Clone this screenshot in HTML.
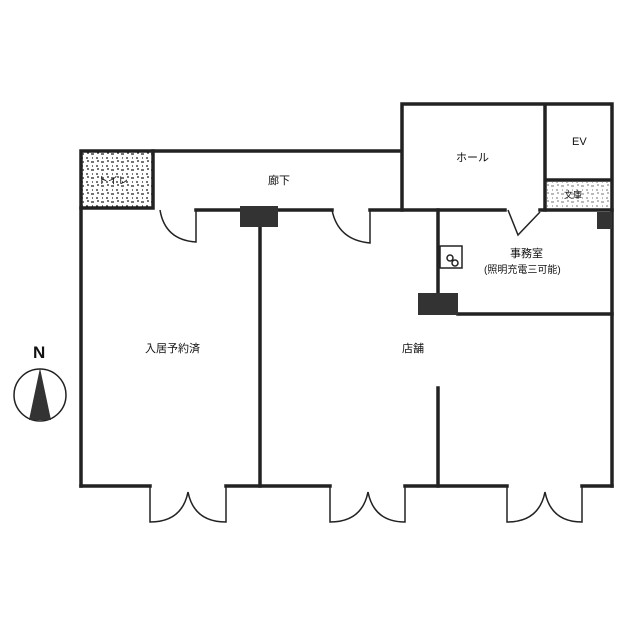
<!DOCTYPE html><html><head><meta charset="utf-8"><style>body{margin:0;background:#fff}svg{display:block}text{font-family:"Liberation Sans","Noto Sans CJK JP",sans-serif;font-size:11px;fill:#111}</style></head><body>
<svg width="640" height="640" viewBox="0 0 640 640">
<defs><pattern id="h" width="10" height="8" patternUnits="userSpaceOnUse"><path d="M1 2h3M6 6h2M7 1h2M2 6h1" stroke="#222" stroke-width="1.2"/></pattern></defs>
<rect x="81" y="151" width="72" height="56" fill="url(#h)"/>
<rect x="547" y="182" width="63" height="26" fill="url(#h)" opacity=".5"/>
<g stroke="#222" stroke-width="3.5" fill="none" stroke-linecap="square">
<path d="M81 151V486M81 151H402M402 104H612V486M402 104V210M545 104V210M545 180H612"/>
<path d="M81 486H150M226 486H330M405 486H507M582 486H612"/>
<path d="M81 208H153M153 151V208M196 210H332M370 210H505M540 210H612"/>
<path d="M260 210V486M438 210V300M458 314H612M438 388V486"/>
</g>
<g stroke="#222" stroke-width="1.5" fill="none">
<path d="M160 210Q165 240 196 242V210M332 210Q338 240 370 243V210"/>
<path d="M508 210L518 235L540 212"/>
<path d="M150 486V522Q182 522 188 492Q194 522 226 522V486"/>
<path d="M330 486V522Q362 522 368 492Q374 522 405 522V486"/>
<path d="M507 486V522Q539 522 545 492Q551 522 582 522V486"/>
<rect x="440" y="246" width="22" height="22"/><circle cx="450" cy="258" r="3"/><circle cx="455" cy="263" r="3"/>
<circle cx="40" cy="395" r="26"/>
</g>
<rect x="240" y="206" width="38" height="21" fill="#333"/>
<rect x="418" y="293" width="40" height="22" fill="#333"/>
<rect x="597" y="212" width="15" height="17" fill="#333"/>
<path d="M40 368L29 420H51Z" fill="#333"/>
<text x="33" y="358" style="font-size:17px;font-weight:bold">N</text>
<text x="268" y="184">廊下</text>
<text x="456" y="161">ホール</text>
<text x="572" y="145">EV</text>
<text x="98" y="184" style="font-size:10px">トイレ</text>
<text x="564" y="198" style="font-size:9px">文庫</text>
<text x="510" y="257">事務室</text>
<text x="484" y="273" style="font-size:10px">(照明充電三可能)</text>
<text x="145" y="352">入居予約済</text>
<text x="402" y="352">店舗</text>
</svg></body></html>
